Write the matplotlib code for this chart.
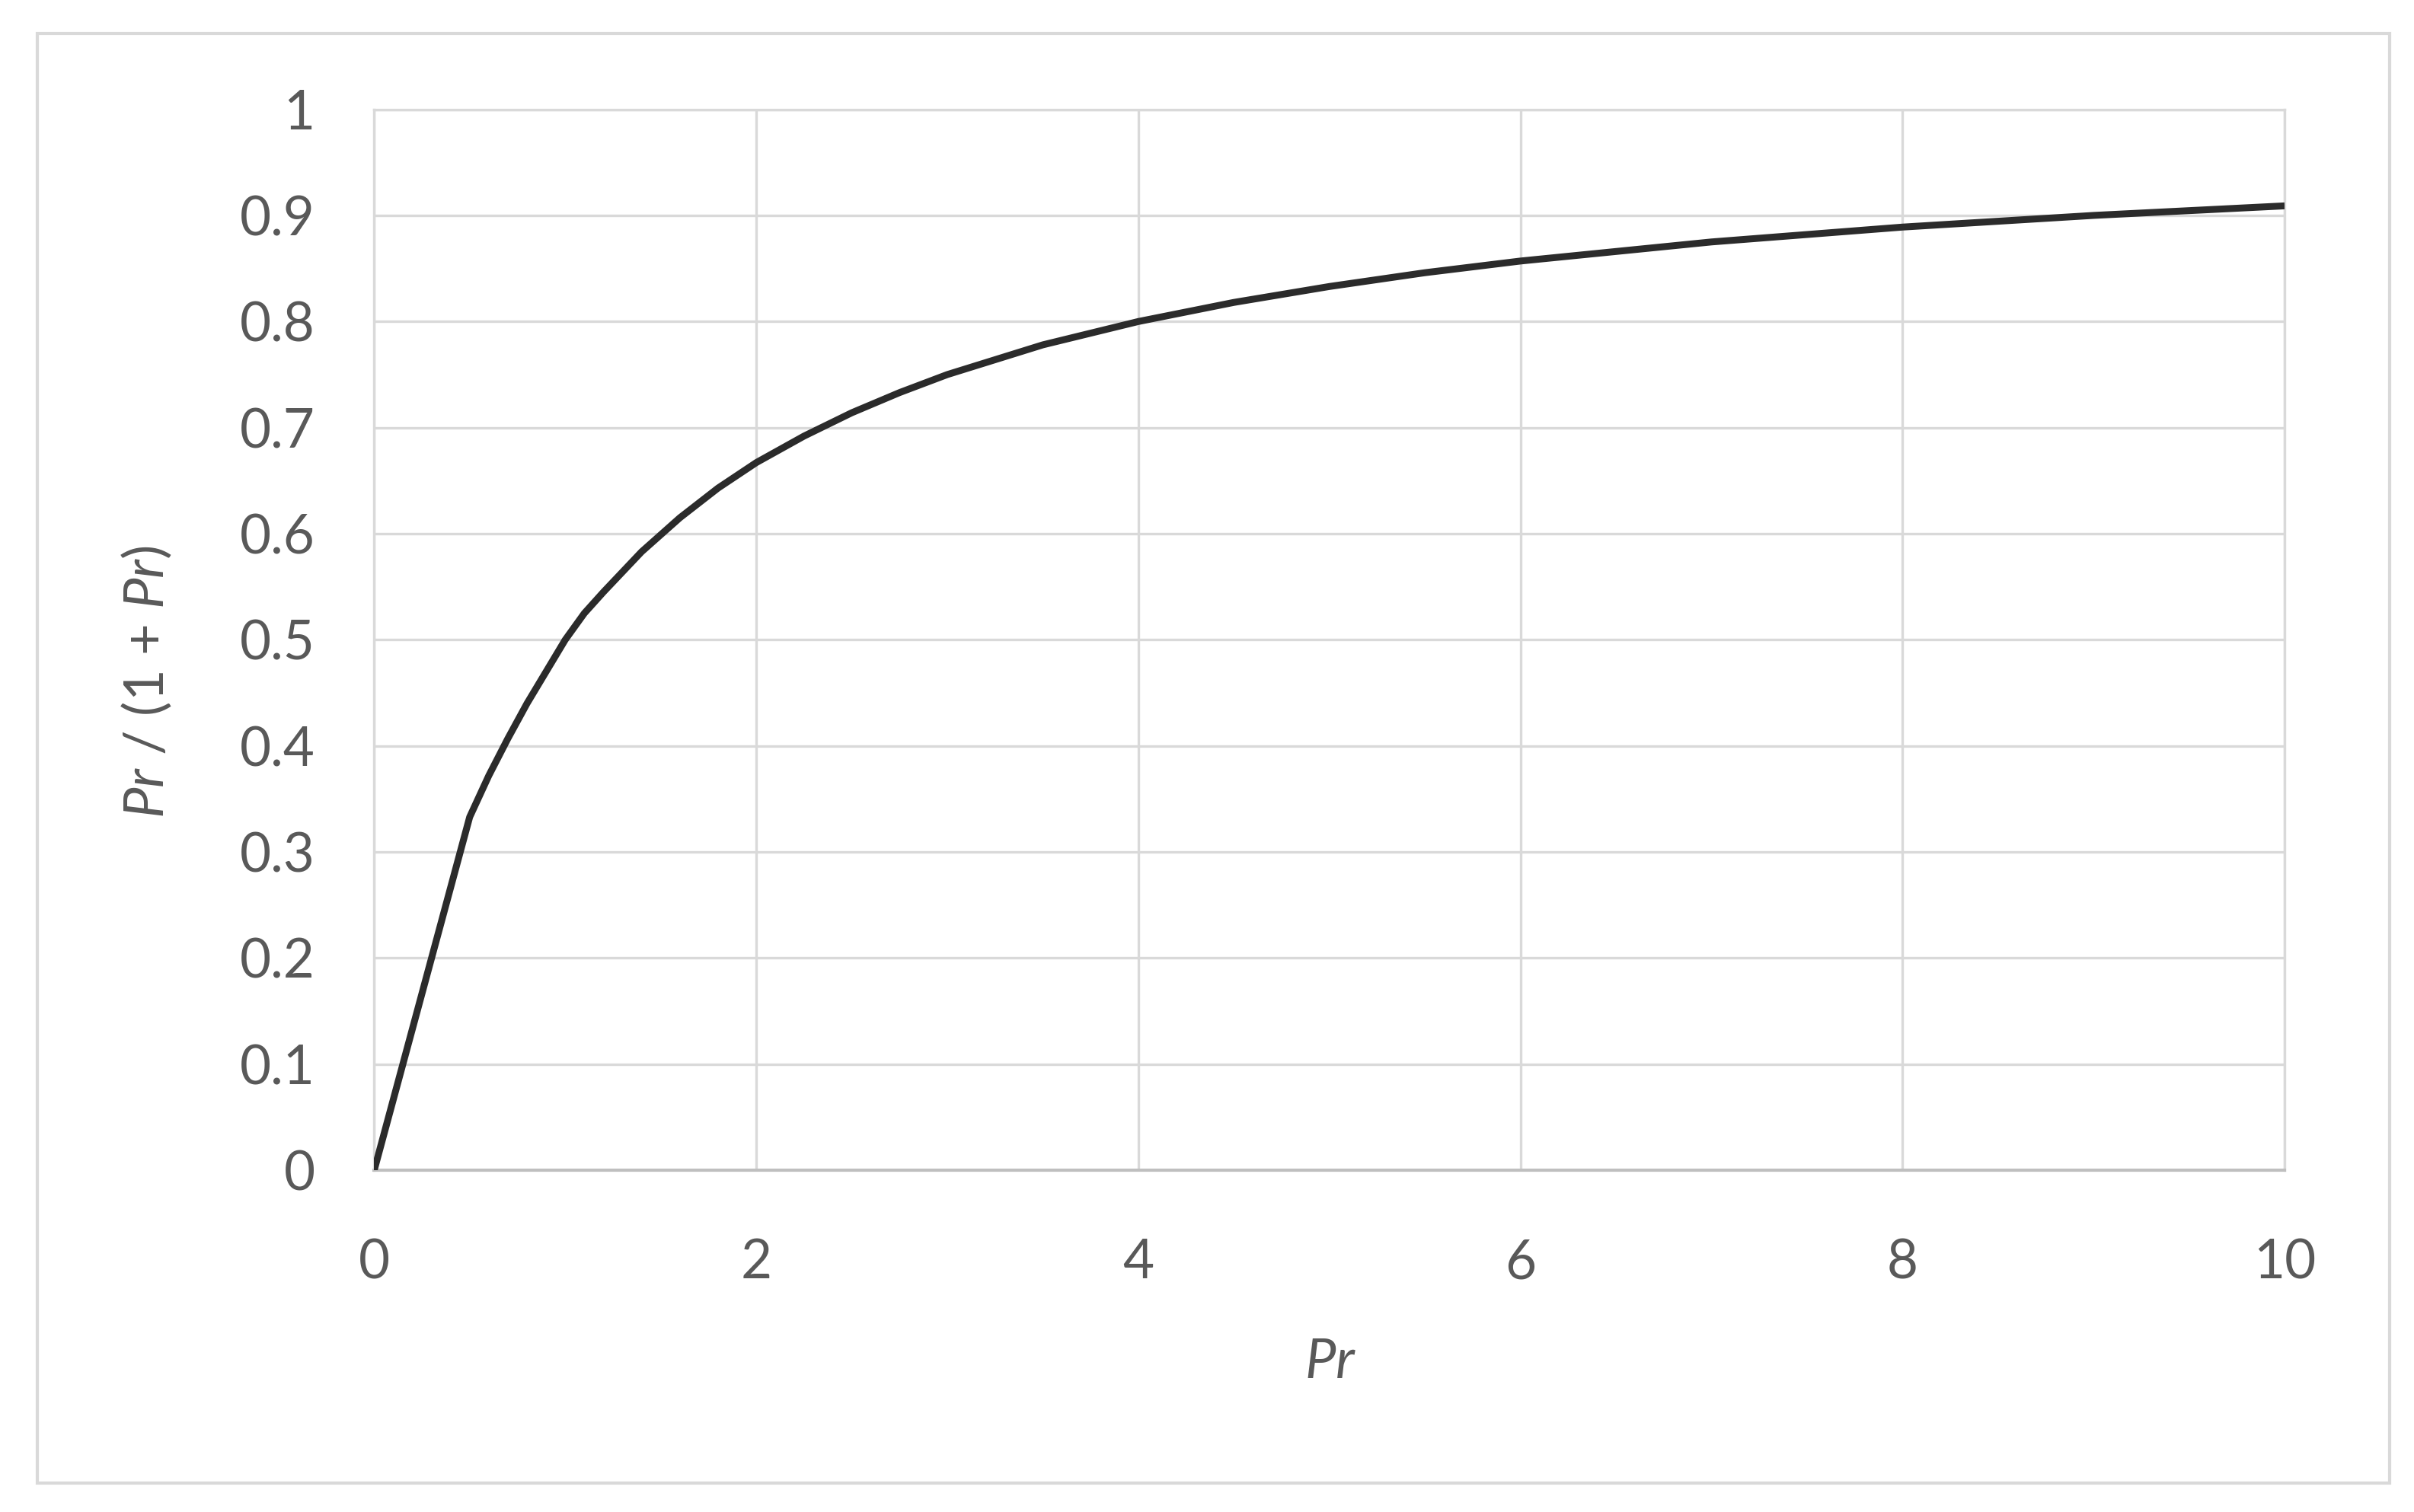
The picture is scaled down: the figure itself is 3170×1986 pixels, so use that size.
import matplotlib
matplotlib.use("Agg")
import matplotlib.pyplot as plt
from matplotlib.patches import Rectangle

# values
pr = [0, 0.5, 0.6, 0.7, 0.8, 0.9, 1.0, 1.1, 1.2, 1.4, 1.6, 1.8, 2.0, 2.25, 2.5,
      2.75, 3, 3.5, 4, 4.5, 5, 5.5, 6, 7, 8, 9, 10]
ratio = [0, 0.333, 0.372, 0.407, 0.44, 0.47, 0.5, 0.525, 0.545, 0.583, 0.615,
         0.643, 0.667, 0.692, 0.714, 0.733, 0.75, 0.778, 0.8, 0.818, 0.833,
         0.846, 0.857, 0.875, 0.889, 0.9, 0.909]

x_ticks = [0, 2, 4, 6, 8, 10]
y_ticks = [0, 0.1, 0.2, 0.3, 0.4, 0.5, 0.6, 0.7, 0.8, 0.9, 1]
y_labels = ["0", "0.1", "0.2", "0.3", "0.4", "0.5", "0.6", "0.7", "0.8", "0.9", "1"]

text_col = "#595959"
grid_col = "#d9d9d9"

plt.rcParams["font.family"] = ["Lato", "DejaVu Sans"]
plt.rcParams["mathtext.fontset"] = "custom"
plt.rcParams["mathtext.it"] = "Lato:italic"
plt.rcParams["mathtext.rm"] = "Lato"

fig = plt.figure(figsize=(31.70, 19.86), dpi=100)
fig.patch.set_facecolor("white")
fig.patches.append(Rectangle((0.0153, 0.019), 0.9747, 0.9586, transform=fig.transFigure,
                             fill=False, edgecolor=grid_col, linewidth=3))

ax = fig.add_axes([0.155, 0.226, 0.7914, 0.7017])
ax.plot(pr, ratio, color="#2b2b2b", linewidth=6.5, solid_capstyle="butt",
        solid_joinstyle="round", zorder=3)

ax.set_xlim(0, 10)
ax.set_ylim(0, 1)
ax.set_xticks(x_ticks)
ax.set_yticks(y_ticks)
ax.set_yticklabels(y_labels)
ax.grid(True, color=grid_col, linewidth=2.4)
ax.set_axisbelow(True)
ax.tick_params(length=0, labelsize=51, colors=text_col)
ax.tick_params(axis="x", pad=64)
ax.tick_params(axis="y", pad=56)
for side in ["top", "right", "left"]:
    ax.spines[side].set_color(grid_col)
    ax.spines[side].set_linewidth(2.4)
ax.spines["bottom"].set_color("#bfbfbf")
ax.spines["bottom"].set_linewidth(3)

fig.text(0.551, 0.099, "$Pr$", fontsize=52, color=text_col, ha="center", va="center")
fig.text(0.061, 0.549, "$Pr$ / (1 + $Pr$)", fontsize=52, color=text_col,
         ha="center", va="center", rotation=90)

plt.savefig("out.png", dpi=100)
plt.close()
